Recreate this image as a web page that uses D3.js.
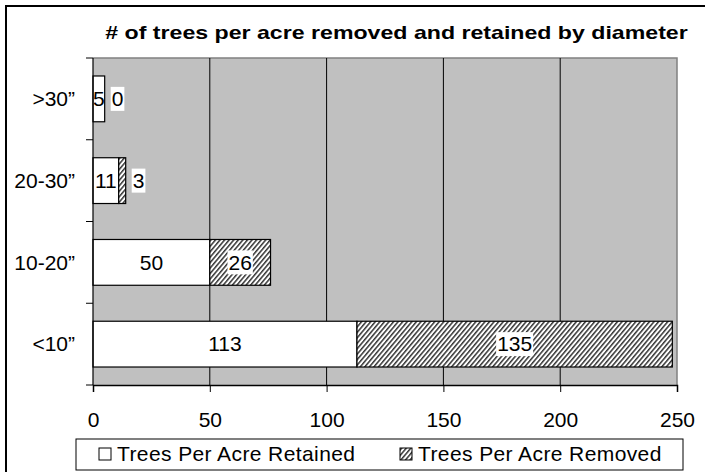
<!DOCTYPE html>
<html>
<head>
<meta charset="utf-8">
<script src="https://cdn.jsdelivr.net/npm/d3@7"></script>
<style>
  body { margin: 0; background: #fff; }
  text { font-family: "Liberation Sans", Arial, sans-serif; }
</style>
</head>
<body>
<script>
const width = 705;
const height = 472;

// data, top to bottom as drawn
const categories = [">30\u201d", "20-30\u201d", "10-20\u201d", "<10\u201d"];
const retained = [5, 11, 50, 113];
const removed = [0, 3, 26, 135];
const xTicks = [0, 50, 100, 150, 200, 250];
const seriesNames = ["Trees Per Acre Retained", "Trees Per Acre Removed"];

const plot = { left: 93, right: 677, top: 58, bottom: 385 };
const labelSize = "21px";

const svg = d3.select("body")
  .append("svg")
  .attr("width", width)
  .attr("height", height);

// hatch pattern
const pat = svg.append("defs").append("pattern")
  .attr("id", "hatch")
  .attr("patternUnits", "userSpaceOnUse")
  .attr("width", 3.5)
  .attr("height", 3.5)
  .attr("patternTransform", "rotate(40)");
pat.append("rect").attr("width", 3.5).attr("height", 3.5).attr("fill", "#fff");
pat.append("rect").attr("width", 1.5).attr("height", 3.5).attr("fill", "#333");

// outer border
svg.append("rect")
  .attr("x", 6).attr("y", 6)
  .attr("width", width + 20).attr("height", height + 20)
  .attr("fill", "none")
  .attr("stroke", "#000")
  .attr("stroke-width", 2);

// title, stretched sideways to the reference's width
const title = svg.append("text")
  .attr("text-anchor", "middle")
  .style("font-size", "18px")
  .style("font-weight", "bold")
  .text("# of trees per acre removed and retained by diameter");
const tw = title.node().getComputedTextLength();
title.attr("transform", `translate(396.5,39) scale(${583 / tw},1)`);

const x = d3.scaleLinear().domain([0, 250]).range([plot.left, plot.right]);
const y = d3.scaleBand().domain(categories).range([plot.top, plot.bottom]).paddingInner(0.44).paddingOuter(0.22);

// plot background
svg.append("rect")
  .attr("x", plot.left).attr("y", plot.top)
  .attr("width", plot.right - plot.left).attr("height", plot.bottom - plot.top)
  .attr("fill", "#c0c0c0");
svg.append("path")
  .attr("d", `M${plot.left},${plot.top}H${plot.right}V${plot.bottom}`)
  .attr("fill", "none")
  .attr("stroke", "#808080")
  .attr("stroke-width", 1.5);

// gridlines
svg.selectAll(".grid")
  .data(xTicks.slice(1, -1))
  .enter()
  .append("line")
  .attr("x1", d => x(d)).attr("x2", d => x(d))
  .attr("y1", plot.top).attr("y2", plot.bottom)
  .attr("stroke", "#000");

// bars
const rows = categories.map((c, i) => ({ c, r: retained[i], m: removed[i] }));

svg.selectAll(".ret")
  .data(rows)
  .enter()
  .append("rect")
  .attr("x", x(0))
  .attr("y", d => y(d.c))
  .attr("width", d => x(d.r) - x(0))
  .attr("height", y.bandwidth())
  .attr("fill", "#fff")
  .attr("stroke", "#000")
  .attr("stroke-width", 1.2);

svg.selectAll(".rem")
  .data(rows.filter(d => d.m > 0))
  .enter()
  .append("rect")
  .attr("x", d => x(d.r))
  .attr("y", d => y(d.c))
  .attr("width", d => x(d.r + d.m) - x(d.r))
  .attr("height", y.bandwidth())
  .attr("fill", "url(#hatch)")
  .attr("stroke", "#000")
  .attr("stroke-width", 1.2);

// data labels
rows.forEach(d => {
  const cy = y(d.c) + y.bandwidth() / 2;
  svg.append("text")
    .attr("x", (x(0) + x(d.r)) / 2)
    .attr("y", cy)
    .attr("dy", "0.35em")
    .attr("text-anchor", "middle")
    .style("font-size", labelSize)
    .text(d.r);

  const g = svg.append("g");
  const t = g.append("text")
    .attr("dy", "0.35em")
    .attr("text-anchor", "middle")
    .style("font-size", labelSize)
    .text(d.m);
  const w = t.node().getComputedTextLength();
  const end = x(d.r + d.m);
  let lx = (x(d.r) + end) / 2;
  // small segments: label pushed past the bar end
  if (end - x(d.r) < w) lx = end + w / 2 + 7;
  g.attr("transform", `translate(${lx},${cy})`);
  g.insert("rect", "text")
    .attr("x", -w / 2 - 1).attr("y", -12)
    .attr("width", w + 2).attr("height", 24)
    .attr("fill", "#fff");
});

// y axis
svg.append("line")
  .attr("x1", plot.left).attr("x2", plot.left)
  .attr("y1", plot.top).attr("y2", plot.bottom)
  .attr("stroke", "#000").attr("stroke-width", 1.2);
const yEdges = [plot.top].concat(categories.map(c => y(c) - y.step() * y.paddingInner() / 2 + y.step()));
svg.selectAll(".ytick")
  .data(yEdges)
  .enter()
  .append("line")
  .attr("x1", plot.left - 7).attr("x2", plot.left)
  .attr("y1", d => d).attr("y2", d => d)
  .attr("stroke", "#000");
svg.selectAll(".ylab")
  .data(categories)
  .enter()
  .append("text")
  .attr("x", 75)
  .attr("y", d => y(d) + y.bandwidth() / 2)
  .attr("dy", "0.35em")
  .attr("text-anchor", "end")
  .style("font-size", labelSize)
  .text(d => d);

// x axis
const xAxis = svg.append("g")
  .attr("transform", `translate(0,${plot.bottom})`)
  .call(d3.axisBottom(x).tickValues(xTicks).tickSize(7).tickPadding(20));
xAxis.select(".domain").attr("stroke-width", 1.5);
xAxis.selectAll("text")
  .style("font-size", labelSize)
  .style("font-family", "'Liberation Sans', Arial, sans-serif")
  .attr("fill", "#000");

// legend
svg.append("rect")
  .attr("x", 76).attr("y", 439)
  .attr("width", 607).attr("height", 31)
  .attr("fill", "#fff")
  .attr("stroke", "#000");
const legendX = [99, 400];
const legendFill = ["#fff", "url(#hatch)"];
seriesNames.forEach((s, i) => {
  svg.append("rect")
    .attr("x", legendX[i]).attr("y", 448)
    .attr("width", 12).attr("height", 12)
    .attr("fill", legendFill[i])
    .attr("stroke", "#000");
  svg.append("text")
    .attr("x", legendX[i] + 18)
    .attr("y", 454)
    .attr("dy", "0.35em")
    .style("font-size", labelSize)
    .style("letter-spacing", "0.4px")
    .text(s);
});
</script>
</body>
</html>
